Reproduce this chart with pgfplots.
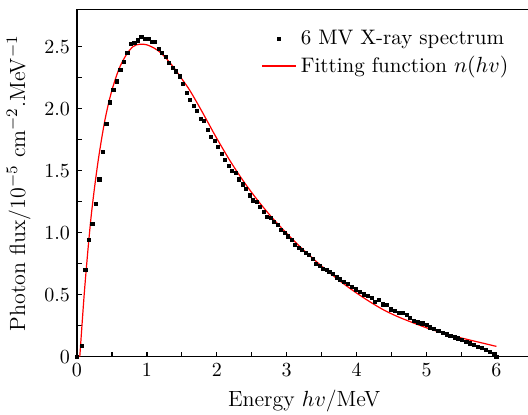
\documentclass[border=0pt]{standalone}
\usepackage{pgfplots}
\pgfplotsset{compat=1.18}
\begin{document}
\begin{tikzpicture}
\begin{axis}[
  scale only axis, width=227.2pt, height=173.6pt,
  xmin=0, xmax=6.5, ymin=0, ymax=2.8,
  tick pos=left,
  xtick={0,1,2,3,4,5,6},
  minor x tick num=1,
  ytick={0,0.5,1,1.5,2,2.5},
  yticklabels={0,0.5,1.0,1.5,2.0,2.5},
  minor y tick num=1,
  major tick length=2.5pt, minor tick length=2.5pt,
  every tick/.style={black, line width=0.6pt},
  axis line style={line width=0.6pt},
  label style={font=\fontsize{11}{13}\selectfont},
  xlabel={Energy $hv$/MeV},
  ylabel={Photon flux/10$^{-5}$ cm$^{-2}$.MeV$^{-1}$},
  legend style={at={(0.972,0.965)}, anchor=north east, draw=white, fill=white,
    font=\fontsize{10.5}{12.5}\selectfont, row sep=0.5pt},
  legend cell align=left,
]
\addplot[only marks, mark=square*, mark size=0.8pt, black] table {
x y
0 0
0.07 0.09
0.12 0.70
0.17 0.94
0.22 1.07
0.27 1.23
0.32 1.43
0.37 1.65
0.42 1.88
0.47 2.05
0.52 2.15
0.57 2.22
0.62 2.31
0.67 2.38
0.72 2.45
0.77 2.52
0.82 2.53
0.87 2.55
0.92 2.58
0.97 2.56
1.02 2.56
1.07 2.54
1.12 2.54
1.17 2.48
1.22 2.45
1.27 2.42
1.32 2.37
1.37 2.33
1.42 2.30
1.47 2.26
1.52 2.20
1.57 2.13
1.62 2.07
1.67 2.02
1.72 1.98
1.77 1.92
1.82 1.90
1.87 1.83
1.92 1.77
1.97 1.74
2.02 1.69
2.07 1.635
2.12 1.59
2.17 1.54
2.22 1.50
2.27 1.48
2.32 1.43
2.37 1.39
2.42 1.35
2.47 1.30
2.52 1.26
2.57 1.25
2.62 1.21
2.67 1.17
2.72 1.13
2.77 1.12
2.82 1.09
2.87 1.06
2.92 1.02
2.97 1.00
3.02 0.97
3.07 0.94
3.12 0.90
3.17 0.88
3.22 0.86
3.27 0.84
3.32 0.82
3.37 0.79
3.42 0.75
3.47 0.73
3.52 0.71
3.57 0.70
3.61 0.685
3.66 0.667
3.72 0.64
3.76 0.624
3.82 0.605
3.88 0.584
3.93 0.565
3.99 0.543
4.05 0.524
4.10 0.503
4.16 0.492
4.22 0.471
4.26 0.439
4.32 0.457
4.38 0.422
4.43 0.417
4.49 0.382
4.55 0.369
4.61 0.355
4.66 0.35
4.72 0.336
4.76 0.316
4.82 0.29
4.88 0.277
4.94 0.269
5.00 0.256
5.05 0.237
5.11 0.221
5.17 0.21
5.23 0.194
5.29 0.18
5.34 0.167
5.40 0.156
5.45 0.148
5.51 0.135
5.57 0.121
5.62 0.108
5.68 0.094
5.73 0.081
5.79 0.068
5.85 0.054
5.91 0.038
5.96 0.022
6.00 0
};
\addlegendentry{6 MV X-ray spectrum}
\addplot[red, line width=0.6pt, smooth,
  legend image code/.code={\draw[draw=red, line width=0.7pt] (0cm,0cm) -- (0.6cm,0cm);}] table {
x y
0.04 0
0.1 0.48
0.15 0.82
0.2 1.12
0.25 1.36
0.3 1.57
0.35 1.75
0.4 1.91
0.45 2.04
0.5 2.15
0.55 2.24
0.6 2.32
0.65 2.38
0.7 2.43
0.75 2.47
0.8 2.50
0.85 2.515
0.9 2.52
0.95 2.52
1.0 2.515
1.1 2.49
1.2 2.45
1.3 2.39
1.4 2.32
1.5 2.24
1.6 2.16
1.7 2.065
1.8 1.965
1.9 1.862
2.0 1.76
2.2 1.57
2.4 1.40
2.6 1.25
2.8 1.115
3.0 0.995
3.2 0.882
3.4 0.779
3.6 0.683
3.8 0.594
4.0 0.513
4.2 0.439
4.4 0.373
4.6 0.32
4.8 0.275
5.0 0.233
5.2 0.197
5.4 0.165
5.6 0.137
5.8 0.11
6.0 0.083
};
\addlegendentry{Fitting function $n(hv)$}
\coordinate (O) at (rel axis cs:0,0);
\end{axis}
\pgfresetboundingbox
\path[use as bounding box] (O) ++(-38.5pt,-29.15pt) rectangle ++(264pt,207.5pt);
\end{tikzpicture}
\end{document}
